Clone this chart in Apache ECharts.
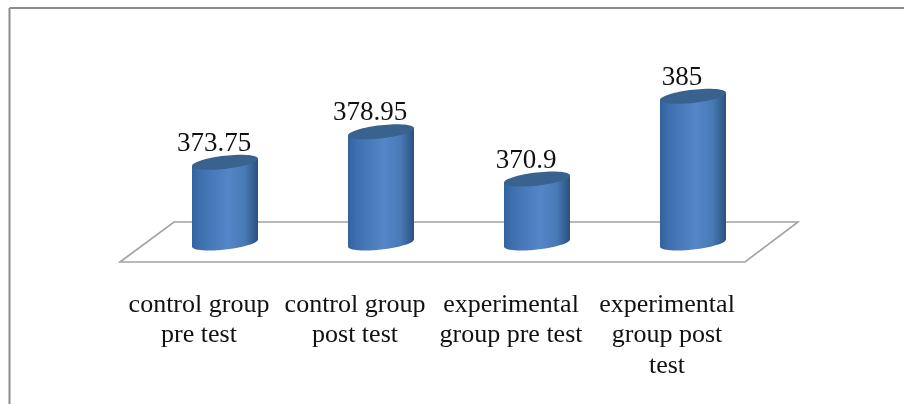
<!DOCTYPE html>
<html><head><meta charset="utf-8">
<style>html,body{margin:0;padding:0;background:#fff;overflow:hidden}#c{width:904px;height:404px}</style>
<script src="https://cdn.jsdelivr.net/npm/echarts@6/dist/echarts.min.js"></script>
</head><body><div id="c"></div>
<script>
const categories = ['control group\npre test','control group\npost test','experimental\ngroup pre test','experimental\ngroup post\ntest'];
const values = [373.75,378.95,370.9,385];
const valueLabels = ['373.75','378.95','370.9','385'];
const axisMin = 360, axisMax = 390;

const chart = echarts.init(document.getElementById('c'), null, {renderer:'canvas'});
const RX = 33, SHEAR = 3.6, RY = 6.6;
function arc(cx, cy, from, to, n){
  const pts=[];
  for(let i=0;i<=n;i++){
    const t=from+(to-from)*i/n;
    pts.push([cx+RX*Math.cos(t), cy-SHEAR*Math.cos(t)+RY*Math.sin(t)]);
  }
  return pts;
}
function renderBar(params, api){
  const i = api.value(0), v = api.value(1);
  const top = api.coord([i,v]), base = api.coord([i,axisMin]);
  const cx = top[0], yt = top[1], yb = base[1];
  const bodyPts = [[cx-RX,yt+SHEAR],[cx+RX,yt-SHEAR]].concat(arc(cx,yb,0,Math.PI,48));
  const grad = new echarts.graphic.LinearGradient(0,0,1,0,[
    {offset:0,color:'#33639e'},{offset:0.14,color:'#3f71b0'},{offset:0.55,color:'#5486c8'},
    {offset:0.8,color:'#487ab6'},{offset:0.95,color:'#325b8c'},{offset:1,color:'#2c4f7c'}]);
  return {type:'group',children:[
    {type:'polygon',shape:{points:bodyPts},style:{fill:grad}},
    {type:'polygon',shape:{points:arc(cx,yt,0,Math.PI*2,64)},style:{fill:'#39628f'}},
    {type:'text',style:{text:valueLabels[i],x:cx-11,y:yt-18.5,align:'center',verticalAlign:'middle',
      font:'27px "Liberation Serif"',fill:'#111'}}
  ]};
}
chart.setOption({
  animation:false,
  backgroundColor:'#fff',
  grid:{left:147,width:624,top:67,height:176,containLabel:false},
  xAxis:{type:'category',data:categories,axisLine:{show:false},axisTick:{show:false},
    axisLabel:{interval:0,margin:46.5,lineHeight:30.5,fontFamily:'Liberation Serif',fontSize:26,color:'#111',
      verticalAlign:'top',padding:[0,52,0,0]}},
  yAxis:{type:'value',min:axisMin,max:axisMax,show:false,splitLine:{show:false}},
  graphic:[
    {type:'polygon',z:0,silent:true,shape:{points:[[120,262],[174,222],[798,222],[745,262]]},
      style:{fill:'#fff',stroke:'#a3a3a3',lineWidth:1.6}},
    {type:'line',z:0,silent:true,shape:{x1:9.5,y1:8,x2:904,y2:8},style:{stroke:'#8c8c8c',lineWidth:2}},
    {type:'line',z:0,silent:true,shape:{x1:9.5,y1:8,x2:9.5,y2:404},style:{stroke:'#8c8c8c',lineWidth:2}}
  ],
  series:[{type:'custom',z:5,clip:false,data:values.map((v,i)=>[i,v]),encode:{x:0,y:1},renderItem:renderBar}]
});
</script></body></html>
